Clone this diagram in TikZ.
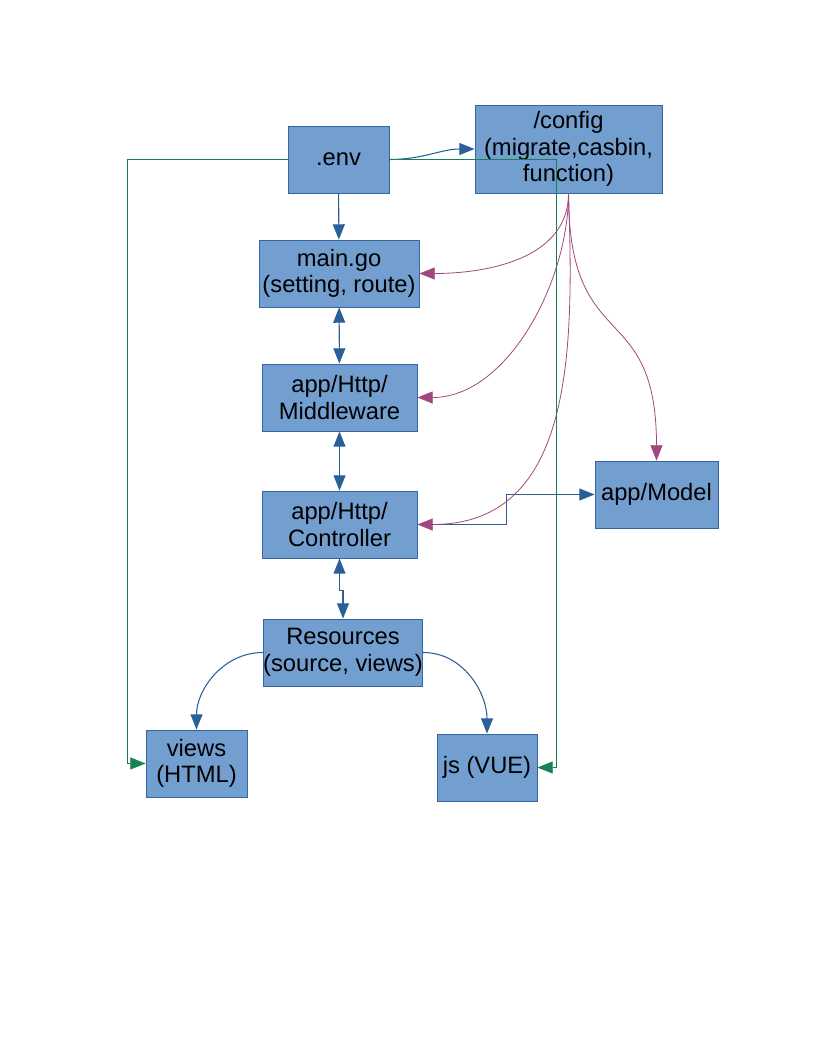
\documentclass[tikz,border=0pt]{standalone}
\usepackage{fontspec}
\setmainfont{Liberation Sans}
\usetikzlibrary{arrows.meta}
\definecolor{relleno}{HTML}{729FCF}
\definecolor{borde}{HTML}{3465A4}
\definecolor{azul}{HTML}{2A6099}
\definecolor{magenta}{HTML}{A1467E}
\definecolor{verde}{HTML}{168253}
\begin{document}
\begin{tikzpicture}[x=0.75pt,y=-0.75pt,
    caja/.style={draw=borde, fill=relleno, line width=0.6pt, align=center, inner sep=0pt,
      minimum height=50.25pt, font=\fontsize{17.8}{20}\selectfont},
    flecha/.style={azul, line width=0.8pt, -{Triangle[length=11.5pt,width=9pt]}},
    doble/.style={azul, line width=0.8pt, {Triangle[length=11.5pt,width=9pt]}-{Triangle[length=11.5pt,width=9pt]}},
    conf/.style={magenta, line width=0.6pt, -{Triangle[length=11.5pt,width=9pt]}},
    env/.style={verde, line width=0.6pt, -{Triangle[length=11.5pt,width=9pt]}}]
    \useasboundingbox (0,0) rectangle (816,1056);
    % Cajas
    \node[caja, minimum width=75.75pt] (env) at (338.5,159.5) {.env};
    \node[caja, minimum width=140.25pt, minimum height=66pt] (config) at (568.5,149) {/config\\(migrate,casbin,\\function)};
    \node[caja, minimum width=120pt] (main) at (339,273.5) {main.go\\(setting, route)};
    \node[caja, minimum width=116.25pt] (middle) at (339.5,397.5) {app/Http/\\Middleware};
    \node[caja, minimum width=116.25pt] (ctrl) at (339.5,524.5) {app/Http/\\Controller};
    \node[caja, minimum width=92.25pt] (model) at (656.5,494.5) {app/Model};
    \node[caja, minimum width=118.5pt] (res) at (343,652.5) {Resources\\(source, views)};
    \node[caja, minimum width=75.75pt] (views) at (196.5,763.5) {views\\(HTML)};
    \node[caja, minimum width=75pt] (js) at (487,767.5) {js (VUE)};
    % Flechas azules
    \draw[flecha] (env.east) to[out=0,in=180] (config.west);
    \draw[flecha] (env) -- (main);
    \draw[doble] (main) -- (middle);
    \draw[doble] (middle) -- (ctrl);
    \draw[doble] (ctrl.south) -- ++(0,32) -| (res.north);
    \draw[flecha] (ctrl.east) -- ++(89,0) |- (model.west);
    \draw[flecha] (res.west) to[out=180,in=90] (views.north);
    \draw[flecha] (res.east) to[out=0,in=90] (js.north);
    % Curvas desde /config
    \draw[conf] (config.south) to[out=-90,in=0] (main.east);
    \draw[conf] (config.south) to[out=-90,in=0,looseness=0.9] (middle.east);
    \draw[conf] (config.south) to[out=-88,in=0,looseness=1.1] (ctrl.east);
    \draw[conf] (config.south) to[out=-90,in=90,looseness=1.5] (model.north);
    % Lineas verdes desde .env
    \draw[env] (env.west) -- ++(-160,0) |- (views.west);
    \draw[env] (env.east) -- ++(167,0) |- (js.east);
\end{tikzpicture}
\end{document}
